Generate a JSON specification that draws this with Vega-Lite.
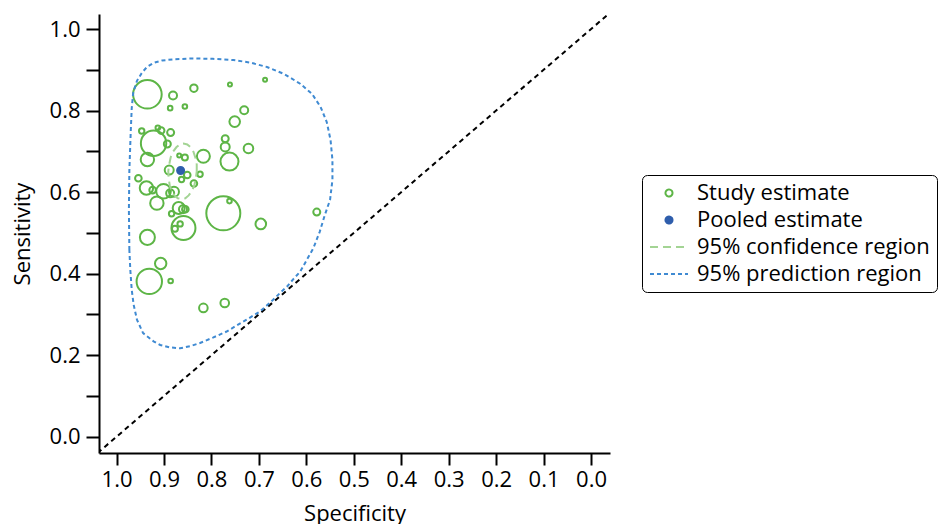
{
  "$schema": "https://vega.github.io/schema/vega-lite/v6.json",
  "width": 511,
  "height": 439,
  "autosize": {"type": "none"},
  "padding": {"left": 99, "top": 14, "right": 328, "bottom": 71},
  "background": "white",
  "config": {
    "font": "Open Sans",
    "view": {"stroke": null},
    "axis": {
      "grid": false,
      "domainColor": "black",
      "domainWidth": 2,
      "tickColor": "black",
      "tickWidth": 2,
      "labelColor": "black",
      "labelFontSize": 22,
      "titleColor": "black",
      "titleFontSize": 22,
      "titleFontWeight": "normal"
    }
  },
  "datasets": {
    "studies": [
      {"spec": 0.935, "sens": 0.840, "w": 2045, "series": "Study estimate"},
      {"spec": 0.881, "sens": 0.837, "w": 160, "series": "Study estimate"},
      {"spec": 0.837, "sens": 0.855, "w": 137, "series": "Study estimate"},
      {"spec": 0.761, "sens": 0.864, "w": 40, "series": "Study estimate"},
      {"spec": 0.687, "sens": 0.876, "w": 40, "series": "Study estimate"},
      {"spec": 0.887, "sens": 0.806, "w": 53, "series": "Study estimate"},
      {"spec": 0.856, "sens": 0.810, "w": 53, "series": "Study estimate"},
      {"spec": 0.731, "sens": 0.801, "w": 160, "series": "Study estimate"},
      {"spec": 0.751, "sens": 0.773, "w": 281, "series": "Study estimate"},
      {"spec": 0.947, "sens": 0.750, "w": 73, "series": "Study estimate"},
      {"spec": 0.913, "sens": 0.758, "w": 53, "series": "Study estimate"},
      {"spec": 0.906, "sens": 0.751, "w": 109, "series": "Study estimate"},
      {"spec": 0.886, "sens": 0.746, "w": 122, "series": "Study estimate"},
      {"spec": 0.922, "sens": 0.720, "w": 1613, "series": "Study estimate"},
      {"spec": 0.893, "sens": 0.718, "w": 122, "series": "Study estimate"},
      {"spec": 0.771, "sens": 0.731, "w": 122, "series": "Study estimate"},
      {"spec": 0.771, "sens": 0.711, "w": 203, "series": "Study estimate"},
      {"spec": 0.722, "sens": 0.707, "w": 230, "series": "Study estimate"},
      {"spec": 0.935, "sens": 0.680, "w": 449, "series": "Study estimate"},
      {"spec": 0.762, "sens": 0.675, "w": 810, "series": "Study estimate"},
      {"spec": 0.817, "sens": 0.688, "w": 423, "series": "Study estimate"},
      {"spec": 0.868, "sens": 0.690, "w": 40, "series": "Study estimate"},
      {"spec": 0.856, "sens": 0.685, "w": 90, "series": "Study estimate"},
      {"spec": 0.889, "sens": 0.654, "w": 203, "series": "Study estimate"},
      {"spec": 0.851, "sens": 0.642, "w": 109, "series": "Study estimate"},
      {"spec": 0.824, "sens": 0.644, "w": 73, "series": "Study estimate"},
      {"spec": 0.863, "sens": 0.631, "w": 73, "series": "Study estimate"},
      {"spec": 0.837, "sens": 0.621, "w": 109, "series": "Study estimate"},
      {"spec": 0.954, "sens": 0.634, "w": 109, "series": "Study estimate"},
      {"spec": 0.937, "sens": 0.610, "w": 449, "series": "Study estimate"},
      {"spec": 0.924, "sens": 0.605, "w": 109, "series": "Study estimate"},
      {"spec": 0.901, "sens": 0.602, "w": 533, "series": "Study estimate"},
      {"spec": 0.887, "sens": 0.597, "w": 160, "series": "Study estimate"},
      {"spec": 0.879, "sens": 0.601, "w": 250, "series": "Study estimate"},
      {"spec": 0.915, "sens": 0.573, "w": 449, "series": "Study estimate"},
      {"spec": 0.869, "sens": 0.561, "w": 360, "series": "Study estimate"},
      {"spec": 0.860, "sens": 0.558, "w": 160, "series": "Study estimate"},
      {"spec": 0.855, "sens": 0.558, "w": 109, "series": "Study estimate"},
      {"spec": 0.884, "sens": 0.547, "w": 73, "series": "Study estimate"},
      {"spec": 0.775, "sens": 0.548, "w": 2890, "series": "Study estimate"},
      {"spec": 0.762, "sens": 0.578, "w": 53, "series": "Study estimate"},
      {"spec": 0.578, "sens": 0.551, "w": 122, "series": "Study estimate"},
      {"spec": 0.696, "sens": 0.522, "w": 281, "series": "Study estimate"},
      {"spec": 0.859, "sens": 0.512, "w": 1440, "series": "Study estimate"},
      {"spec": 0.866, "sens": 0.522, "w": 73, "series": "Study estimate"},
      {"spec": 0.877, "sens": 0.510, "w": 90, "series": "Study estimate"},
      {"spec": 0.935, "sens": 0.489, "w": 563, "series": "Study estimate"},
      {"spec": 0.907, "sens": 0.425, "w": 325, "series": "Study estimate"},
      {"spec": 0.931, "sens": 0.381, "w": 1613, "series": "Study estimate"},
      {"spec": 0.886, "sens": 0.382, "w": 53, "series": "Study estimate"},
      {"spec": 0.817, "sens": 0.316, "w": 185, "series": "Study estimate"},
      {"spec": 0.772, "sens": 0.328, "w": 185, "series": "Study estimate"}
    ],
    "pooled": [
      {"spec": 0.865, "sens": 0.653, "series": "Pooled estimate"}
    ],
    "conf": [
      {"i": 0, "spec": 0.831, "sens": 0.651, "series": "95% confidence region"},
      {"i": 1, "spec": 0.831, "sens": 0.668, "series": "95% confidence region"},
      {"i": 2, "spec": 0.834, "sens": 0.685, "series": "95% confidence region"},
      {"i": 3, "spec": 0.838, "sens": 0.699, "series": "95% confidence region"},
      {"i": 4, "spec": 0.844, "sens": 0.710, "series": "95% confidence region"},
      {"i": 5, "spec": 0.851, "sens": 0.717, "series": "95% confidence region"},
      {"i": 6, "spec": 0.859, "sens": 0.719, "series": "95% confidence region"},
      {"i": 7, "spec": 0.867, "sens": 0.717, "series": "95% confidence region"},
      {"i": 8, "spec": 0.874, "sens": 0.710, "series": "95% confidence region"},
      {"i": 9, "spec": 0.881, "sens": 0.699, "series": "95% confidence region"},
      {"i": 10, "spec": 0.886, "sens": 0.685, "series": "95% confidence region"},
      {"i": 11, "spec": 0.889, "sens": 0.668, "series": "95% confidence region"},
      {"i": 12, "spec": 0.891, "sens": 0.651, "series": "95% confidence region"},
      {"i": 13, "spec": 0.890, "sens": 0.633, "series": "95% confidence region"},
      {"i": 14, "spec": 0.888, "sens": 0.617, "series": "95% confidence region"},
      {"i": 15, "spec": 0.884, "sens": 0.603, "series": "95% confidence region"},
      {"i": 16, "spec": 0.878, "sens": 0.592, "series": "95% confidence region"},
      {"i": 17, "spec": 0.871, "sens": 0.585, "series": "95% confidence region"},
      {"i": 18, "spec": 0.863, "sens": 0.583, "series": "95% confidence region"},
      {"i": 19, "spec": 0.855, "sens": 0.585, "series": "95% confidence region"},
      {"i": 20, "spec": 0.848, "sens": 0.592, "series": "95% confidence region"},
      {"i": 21, "spec": 0.841, "sens": 0.603, "series": "95% confidence region"},
      {"i": 22, "spec": 0.836, "sens": 0.617, "series": "95% confidence region"},
      {"i": 23, "spec": 0.833, "sens": 0.633, "series": "95% confidence region"},
      {"i": 24, "spec": 0.831, "sens": 0.651, "series": "95% confidence region"}
    ],
    "pred": [
      {"i": 0, "spec": 0.973, "sens": 0.458, "series": "95% prediction region"},
      {"i": 1, "spec": 0.974, "sens": 0.556, "series": "95% prediction region"},
      {"i": 2, "spec": 0.973, "sens": 0.654, "series": "95% prediction region"},
      {"i": 3, "spec": 0.970, "sens": 0.752, "series": "95% prediction region"},
      {"i": 4, "spec": 0.968, "sens": 0.806, "series": "95% prediction region"},
      {"i": 5, "spec": 0.965, "sens": 0.843, "series": "95% prediction region"},
      {"i": 6, "spec": 0.957, "sens": 0.873, "series": "95% prediction region"},
      {"i": 7, "spec": 0.947, "sens": 0.892, "series": "95% prediction region"},
      {"i": 8, "spec": 0.936, "sens": 0.907, "series": "95% prediction region"},
      {"i": 9, "spec": 0.922, "sens": 0.917, "series": "95% prediction region"},
      {"i": 10, "spec": 0.904, "sens": 0.923, "series": "95% prediction region"},
      {"i": 11, "spec": 0.877, "sens": 0.926, "series": "95% prediction region"},
      {"i": 12, "spec": 0.839, "sens": 0.928, "series": "95% prediction region"},
      {"i": 13, "spec": 0.797, "sens": 0.927, "series": "95% prediction region"},
      {"i": 14, "spec": 0.754, "sens": 0.924, "series": "95% prediction region"},
      {"i": 15, "spec": 0.719, "sens": 0.918, "series": "95% prediction region"},
      {"i": 16, "spec": 0.683, "sens": 0.907, "series": "95% prediction region"},
      {"i": 17, "spec": 0.647, "sens": 0.890, "series": "95% prediction region"},
      {"i": 18, "spec": 0.613, "sens": 0.866, "series": "95% prediction region"},
      {"i": 19, "spec": 0.588, "sens": 0.841, "series": "95% prediction region"},
      {"i": 20, "spec": 0.570, "sens": 0.809, "series": "95% prediction region"},
      {"i": 21, "spec": 0.557, "sens": 0.772, "series": "95% prediction region"},
      {"i": 22, "spec": 0.549, "sens": 0.728, "series": "95% prediction region"},
      {"i": 23, "spec": 0.545, "sens": 0.679, "series": "95% prediction region"},
      {"i": 24, "spec": 0.545, "sens": 0.630, "series": "95% prediction region"},
      {"i": 25, "spec": 0.550, "sens": 0.581, "series": "95% prediction region"},
      {"i": 26, "spec": 0.561, "sens": 0.544, "series": "95% prediction region"},
      {"i": 27, "spec": 0.572, "sens": 0.502, "series": "95% prediction region"},
      {"i": 28, "spec": 0.585, "sens": 0.463, "series": "95% prediction region"},
      {"i": 29, "spec": 0.599, "sens": 0.434, "series": "95% prediction region"},
      {"i": 30, "spec": 0.613, "sens": 0.405, "series": "95% prediction region"},
      {"i": 31, "spec": 0.627, "sens": 0.387, "series": "95% prediction region"},
      {"i": 32, "spec": 0.641, "sens": 0.368, "series": "95% prediction region"},
      {"i": 33, "spec": 0.655, "sens": 0.353, "series": "95% prediction region"},
      {"i": 34, "spec": 0.670, "sens": 0.336, "series": "95% prediction region"},
      {"i": 35, "spec": 0.684, "sens": 0.321, "series": "95% prediction region"},
      {"i": 36, "spec": 0.698, "sens": 0.307, "series": "95% prediction region"},
      {"i": 37, "spec": 0.726, "sens": 0.287, "series": "95% prediction region"},
      {"i": 38, "spec": 0.748, "sens": 0.272, "series": "95% prediction region"},
      {"i": 39, "spec": 0.768, "sens": 0.258, "series": "95% prediction region"},
      {"i": 40, "spec": 0.797, "sens": 0.243, "series": "95% prediction region"},
      {"i": 41, "spec": 0.824, "sens": 0.230, "series": "95% prediction region"},
      {"i": 42, "spec": 0.845, "sens": 0.222, "series": "95% prediction region"},
      {"i": 43, "spec": 0.866, "sens": 0.217, "series": "95% prediction region"},
      {"i": 44, "spec": 0.887, "sens": 0.219, "series": "95% prediction region"},
      {"i": 45, "spec": 0.908, "sens": 0.225, "series": "95% prediction region"},
      {"i": 46, "spec": 0.922, "sens": 0.234, "series": "95% prediction region"},
      {"i": 47, "spec": 0.944, "sens": 0.254, "series": "95% prediction region"},
      {"i": 48, "spec": 0.957, "sens": 0.287, "series": "95% prediction region"},
      {"i": 49, "spec": 0.964, "sens": 0.324, "series": "95% prediction region"},
      {"i": 50, "spec": 0.968, "sens": 0.360, "series": "95% prediction region"},
      {"i": 51, "spec": 0.971, "sens": 0.409, "series": "95% prediction region"},
      {"i": 52, "spec": 0.973, "sens": 0.458, "series": "95% prediction region"}
    ],
    "diag": [
      {"spec": 1.04, "sens": -0.04},
      {"spec": -0.04, "sens": 1.04}
    ]
  },
  "layer": [
    {
      "data": {"name": "diag"},
      "mark": {"type": "line", "color": "black", "strokeWidth": 2, "strokeDash": [5, 4], "clip": true},
      "encoding": {
        "x": {
          "field": "spec", "type": "quantitative",
          "scale": {"domain": [-0.04, 1.037], "reverse": true, "nice": false, "zero": false},
          "axis": {
            "title": "Specificity",
            "values": [1, 0.9, 0.8, 0.7, 0.6, 0.5, 0.4, 0.3, 0.2, 0.1, 0],
            "format": ".1f",
            "tickSize": 12,
            "labelPadding": 4,
            "titlePadding": 13
          }
        },
        "y": {
          "field": "sens", "type": "quantitative",
          "scale": {"domain": [-0.04, 1.037], "nice": false, "zero": false},
          "axis": {
            "title": "Sensitivity",
            "values": [0, 0.1, 0.2, 0.3, 0.4, 0.5, 0.6, 0.7, 0.8, 0.9, 1],
            "labelExpr": "round(datum.value * 10) % 2 == 0 ? format(datum.value, '.1f') : ''",
            "tickSize": 13,
            "labelPadding": 6,
            "titlePadding": 15
          }
        }
      }
    },
    {
      "data": {"name": "studies"},
      "mark": {"type": "point", "filled": false, "strokeWidth": 2, "opacity": 1},
      "encoding": {
        "x": {"field": "spec", "type": "quantitative"},
        "y": {"field": "sens", "type": "quantitative"},
        "size": {"field": "w", "type": "quantitative", "scale": {"domain": [0, 3000], "range": [0, 1200]}, "legend": null},
        "color": {
          "field": "series", "type": "nominal",
          "scale": {
            "domain": ["Study estimate", "Pooled estimate", "95% confidence region", "95% prediction region"],
            "range": ["#5db546", "#2f5eac", "#a3d494", "#3f8ad2"]
          },
          "legend": {
            "title": null,
            "orient": "none",
            "legendX": 543,
            "legendY": 161,
            "strokeColor": "black",
            "cornerRadius": 5,
            "padding": 7,
            "labelFontSize": 22,
            "labelColor": "black",
            "labelLimit": 500,
            "labelOffset": 17,
            "symbolOffset": 9,
            "rowPadding": 5,
            "symbolSize": 49,
            "symbolStrokeWidth": 2,
            "symbolOpacity": 1
          }
        },
        "fill": {
          "field": "series", "type": "nominal",
          "scale": {
            "domain": ["Study estimate", "Pooled estimate", "95% confidence region", "95% prediction region"],
            "range": ["transparent", "#2f5eac", "transparent", "transparent"]
          }
        },
        "shape": {
          "field": "series", "type": "nominal",
          "scale": {
            "domain": ["Study estimate", "Pooled estimate", "95% confidence region", "95% prediction region"],
            "range": ["circle", "circle", "M-5.43,0H5.43", "M-5.43,0H5.43"]
          }
        }
      }
    },
    {
      "data": {"name": "pred"},
      "mark": {"type": "line", "strokeWidth": 2},
      "encoding": {
        "x": {"field": "spec", "type": "quantitative"},
        "y": {"field": "sens", "type": "quantitative"},
        "order": {"field": "i", "type": "quantitative"},
        "color": {"field": "series", "type": "nominal"},
        "strokeDash": {
          "field": "series", "type": "nominal",
          "scale": {
            "domain": ["Study estimate", "Pooled estimate", "95% confidence region", "95% prediction region"],
            "range": [[1, 0], [1, 0], [8, 5], [4, 3]]
          }
        }
      }
    },
    {
      "data": {"name": "conf"},
      "mark": {"type": "line", "strokeWidth": 2},
      "encoding": {
        "x": {"field": "spec", "type": "quantitative"},
        "y": {"field": "sens", "type": "quantitative"},
        "order": {"field": "i", "type": "quantitative"},
        "color": {"field": "series", "type": "nominal"},
        "strokeDash": {"field": "series", "type": "nominal"}
      }
    },
    {
      "data": {"name": "pooled"},
      "mark": {"type": "point", "filled": false, "size": 49, "strokeWidth": 2, "opacity": 1},
      "encoding": {
        "x": {"field": "spec", "type": "quantitative"},
        "y": {"field": "sens", "type": "quantitative"},
        "color": {"field": "series", "type": "nominal"},
        "fill": {"field": "series", "type": "nominal"},
        "shape": {"field": "series", "type": "nominal"}
      }
    }
  ]
}
